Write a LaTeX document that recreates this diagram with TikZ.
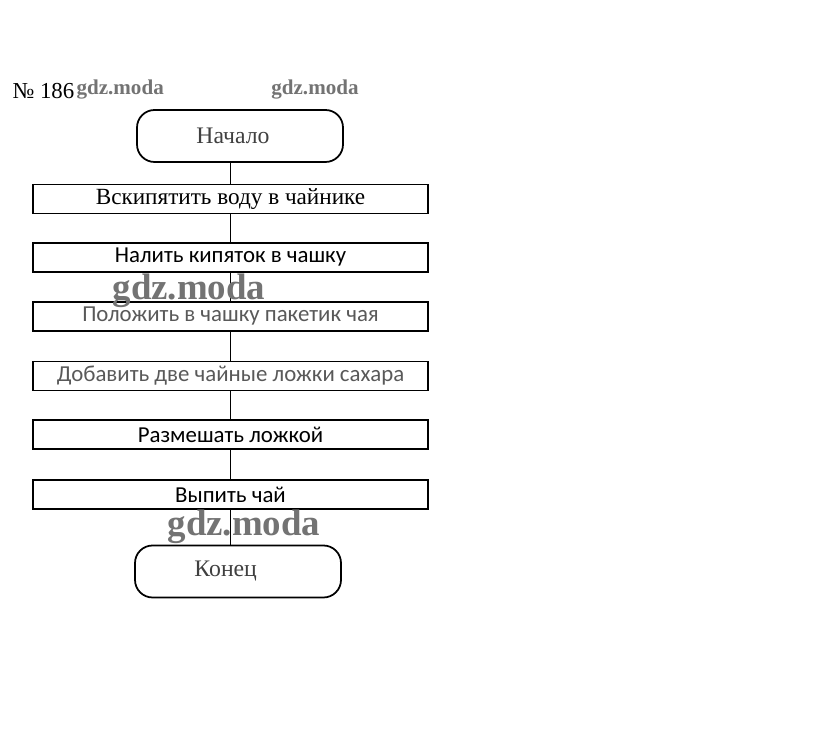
\documentclass[tikz,border=0pt]{standalone}
\usepackage{fontspec}
\setmainfont{Liberation Serif}
\newfontfamily\boxsans{Carlito}
\begin{document}
\begin{tikzpicture}[x=0.02cm,y=-0.02cm,line width=.6pt]
      \useasboundingbox (0,0) rectangle (815,732);

      \tikzset{
        endbox/.style={draw,rounded corners=10pt,line width=1pt,minimum width=206*0.02cm,minimum height=52*0.02cm,text=black!75,font=\fontsize{13.5}{15}\selectfont},
        stepbox/.style={draw,minimum width=395*0.02cm,minimum height=29*0.02cm,inner sep=0pt},
        mark/.style={text=black!55,font=\bfseries\fontsize{#1}{#1}\selectfont,inner sep=0pt},
      }

      \node[anchor=west,font=\fontsize{13}{15}\selectfont,inner sep=0pt] (num) at (12,91) {№ 186};
      \node[mark=12,anchor=west] (m1) at (76,90) {gdz.moda};
      \node[mark=12] (m2) at (315,90) {gdz.moda};

      \node[endbox] (1) at (240,136) {\hspace*{-8pt}Начало};
      \node[endbox] (8) at (238,571.5) {\hspace*{-14pt}Конец};

      \begin{scope}[every node/.style={stepbox}]
        \node[font=\fontsize{13.2}{15}\selectfont] (2) at (230.5,199) {Вскипятить воду в чайнике};
        \node[font=\boxsans\fontsize{13}{15}\selectfont] (3) at (230.5,257.5) {Налить кипяток в чашку};
        \node[font=\boxsans\fontsize{13}{15}\selectfont,text=black!65] (4) at (230.5,316.5) {Положить в чашку пакетик чая};
        \node[font=\boxsans\fontsize{13}{15}\selectfont,text=black!65] (5) at (230.5,376) {Добавить две чайные ложки сахара};
        \node[font=\boxsans\fontsize{13}{15}\selectfont] (6) at (230.5,434.5) {Размешать ложкой};
        \node[font=\boxsans\fontsize{13}{15}\selectfont] (7) at (230.5,494.5) {Выпить чай};
      \end{scope}

      \draw (2.north |- 1.south) -- (2.north);
      \draw (2) -- (3);
      \draw (3) -- (4);
      \draw (4) -- (5);
      \draw (5) -- (6);
      \draw (6) -- (7);
      \draw (7.south) -- (7.south |- 8.north);

      \node[mark=21] (m3) at (189,291) {gdz.moda};
      \node[mark=21] (m4) at (244,527) {gdz.moda};

    \end{tikzpicture}
\end{document}
